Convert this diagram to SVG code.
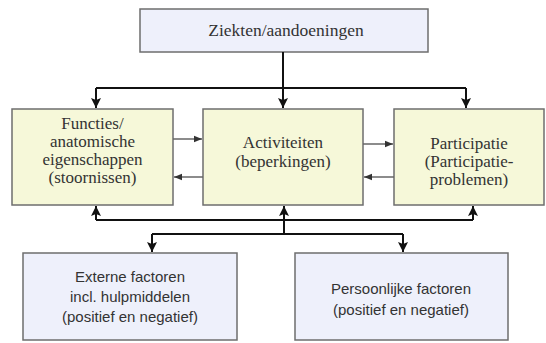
<svg xmlns="http://www.w3.org/2000/svg" width="546" height="343" viewBox="0 0 546 343">
<style>
.box{stroke:#6e6e6e;stroke-width:1.5}
.blue{fill:#eef0fb}
.yellow{fill:#f6f8d9}
.serif{font-family:"Liberation Serif","Times New Roman",serif;font-size:17px;fill:#333;text-anchor:middle}
.big{font-size:17.5px}
.sans{font-family:"Liberation Sans",Arial,sans-serif;font-size:15px;fill:#333;text-anchor:middle}
.thick{stroke:#111;stroke-width:2;fill:none}
.thin{stroke:#666;stroke-width:1.5;fill:none}
</style>
<defs>
<marker id="ah" markerUnits="userSpaceOnUse" markerWidth="10" markerHeight="10" viewBox="0 0 10 10" refX="10" refY="5" orient="auto">
<path d="M0,0 L10,5 L0,10 L2,5 z" fill="#111"/>
</marker>
<marker id="as" markerUnits="userSpaceOnUse" markerWidth="8" markerHeight="8" viewBox="0 0 10 10" refX="10" refY="5" orient="auto">
<path d="M0,1 L10,5 L0,9 z" fill="#333"/>
</marker>
</defs>
<rect width="546" height="343" fill="#fff"/>
<g id="ziekten">
<rect class="box blue" x="140" y="9" width="288" height="43"/>
<text class="serif big" x="286" y="36">Ziekten/aandoeningen</text>
</g>
<g id="functies">
<rect class="box yellow" x="12" y="109" width="161" height="96"/>
<text class="serif" x="92.5" y="129">Functies/</text>
<text class="serif" x="92.5" y="147">anatomische</text>
<text class="serif" x="92.5" y="165">eigenschappen</text>
<text class="serif" x="92.5" y="183">(stoornissen)</text>
</g>
<g id="activiteiten">
<rect class="box yellow" x="203" y="109" width="160" height="96"/>
<text class="serif" x="283" y="148">Activiteiten</text>
<text class="serif" x="283" y="167">(beperkingen)</text>
</g>
<g id="participatie">
<rect class="box yellow" x="394" y="109" width="150" height="96"/>
<text class="serif" x="469" y="149">Participatie</text>
<text class="serif" x="469" y="167">(Participatie-</text>
<text class="serif" x="469" y="185">problemen)</text>
</g>
<g id="externe">
<rect class="box blue" x="23" y="253" width="214" height="87"/>
<text class="sans" x="130" y="282">Externe factoren</text>
<text class="sans" x="130" y="302">incl. hulpmiddelen</text>
<text class="sans" x="130" y="322">(positief en negatief)</text>
</g>
<g id="persoonlijke">
<rect class="box blue" x="295" y="253" width="213" height="87"/>
<text class="sans" x="401" y="294">Persoonlijke factoren</text>
<text class="sans" x="401" y="315">(positief en negatief)</text>
</g>
<g id="connectors">
<path class="thick" d="M283,52 V108" marker-end="url(#ah)"/>
<path class="thick" d="M96,88 H466"/>
<path class="thick" d="M96,88 V108" marker-end="url(#ah)"/>
<path class="thick" d="M466,88 V108" marker-end="url(#ah)"/>
<path class="thick" d="M96,220 H473"/>
<path class="thick" d="M96,220 V206" marker-end="url(#ah)"/>
<path class="thick" d="M473,220 V206" marker-end="url(#ah)"/>
<path class="thick" d="M284,234 V206" marker-end="url(#ah)"/>
<path class="thick" d="M152,234 H403"/>
<path class="thick" d="M152,234 V252" marker-end="url(#ah)"/>
<path class="thick" d="M403,234 V252" marker-end="url(#ah)"/>
<path class="thin" d="M173,139 H202" marker-end="url(#as)"/>
<path class="thin" d="M203,177 H174" marker-end="url(#as)"/>
<path class="thin" d="M363,144 H393" marker-end="url(#as)"/>
<path class="thin" d="M394,177 H364" marker-end="url(#as)"/>
</g>
</svg>
